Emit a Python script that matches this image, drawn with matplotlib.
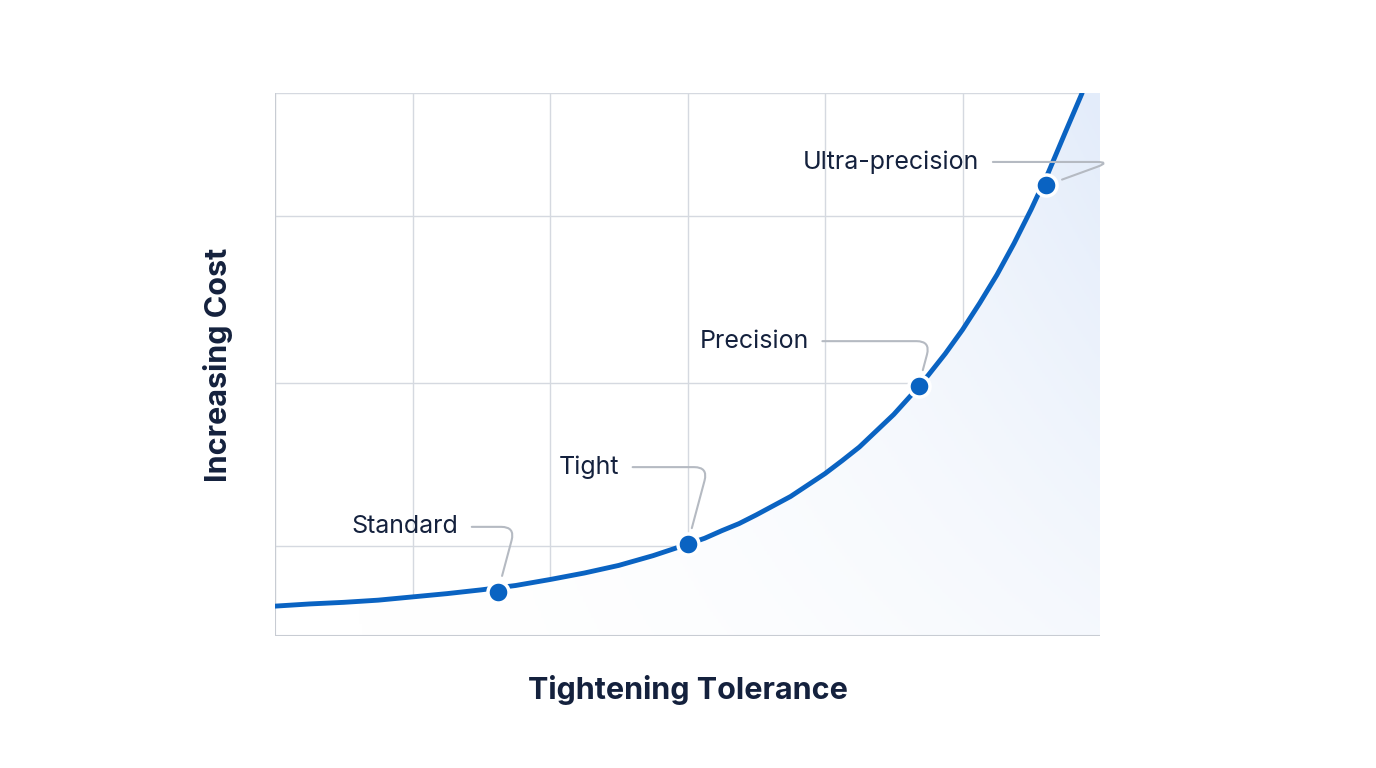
import numpy as np
import matplotlib
matplotlib.use("Agg")
import matplotlib.pyplot as plt
from matplotlib.path import Path
from matplotlib.patches import PathPatch
from matplotlib.colors import LinearSegmentedColormap

plt.rcParams['font.family'] = ['Inter', 'DejaVu Sans']

curve_x = [0, 0.25, 0.5, 0.75, 1, 1.25, 1.5, 1.75, 2, 2.25, 2.5, 2.75, 3, 3.125, 3.25, 3.375, 3.5, 3.625,
           3.75, 3.875, 4, 4.125, 4.25, 4.375, 4.5, 4.625, 4.75, 4.875, 5, 5.125, 5.25, 5.375, 5.5, 5.625, 5.75, 5.87]
curve_y = [5.5, 5.9, 6.2, 6.6, 7.2, 7.8, 8.5, 9.3, 10.4, 11.6, 13.0, 14.8, 16.9, 18.0, 19.4, 20.7, 22.3, 24.0,
           25.7, 27.8, 29.9, 32.3, 34.8, 37.8, 40.8, 44.3, 48.0, 52.0, 56.4, 61.3, 66.5, 72.3, 78.6, 85.4, 92.9, 100]
point_labels = ["Standard", "Tight", "Precision", "Ultra-precision"]
point_x = [1.62, 3.0, 4.68, 5.61]
point_y = [8.1, 16.9, 46.0, 83.0]
label_x = [1.33, 2.5, 3.88, 5.12]
label_y = [20.1, 31.1, 54.3, 87.3]
grid_x = [0, 1, 2, 3, 4, 5, 6]
grid_y = [0, 16.6, 46.6, 77.3, 100]

navy = "#14213d"
blue = "#0a63c2"
fig = plt.figure(figsize=(13.76, 7.68), dpi=100)
ax = fig.add_axes([275/1376, 1-636/768, 825/1376, 543/768])
ax.set_xlim(0, 6); ax.set_ylim(0, 100)
for g in grid_x:
    ax.axvline(g, color="#d5d9e0", lw=1, zorder=0)
for g in grid_y:
    ax.axhline(g, color="#d5d9e0", lw=1, zorder=0)
for s in ax.spines.values():
    s.set_visible(False)
ax.axvline(0, color="#c8ccd3", lw=1.5); ax.axhline(0, color="#c8ccd3", lw=1.5)
ax.set_xticks([]); ax.set_yticks([])

verts = list(zip(curve_x, curve_y)) + [(6, 100), (6, 0), (0, 0)]
patch = PathPatch(Path(verts), facecolor="none", edgecolor="none")
ax.add_patch(patch)
gx, gy = np.meshgrid(np.linspace(0, 1, 300), np.linspace(0, 1, 300))
grad = gx ** 2 * (0.35 + 0.65 * gy)
cmap = LinearSegmentedColormap.from_list("g", ["#ffffff", "#e3ecfa"])
im = ax.imshow(grad, extent=[0, 6, 0, 100], aspect="auto", cmap=cmap, origin="lower", zorder=1, vmin=0, vmax=1)
im.set_clip_path(patch)

ax.plot(curve_x, curve_y, color=blue, lw=3.5, zorder=3, solid_capstyle="round", solid_joinstyle="round")
ax.scatter(point_x, point_y, s=230, color=blue, edgecolor="white", linewidth=2.5, zorder=4)
for lab, px, py, lx, ly in zip(point_labels, point_x, point_y, label_x, label_y):
    ax.annotate(lab, xy=(px, py), xytext=(lx, ly), fontsize=18, color=navy,
                ha="right", va="center", zorder=5,
                arrowprops=dict(arrowstyle="-", color="#b5bac2", lw=1.5,
                                connectionstyle="angle,angleA=0,angleB=%d,rad=14" % (75 if py < 60 else 20),
                                shrinkA=8, shrinkB=12))
ax.set_xlabel("Tightening Tolerance", fontsize=22, fontweight="bold", color=navy, labelpad=28)
ax.set_ylabel("Increasing Cost", fontsize=22, fontweight="bold", color=navy, labelpad=30)
fig.savefig("out.png", dpi=100, facecolor="white")
